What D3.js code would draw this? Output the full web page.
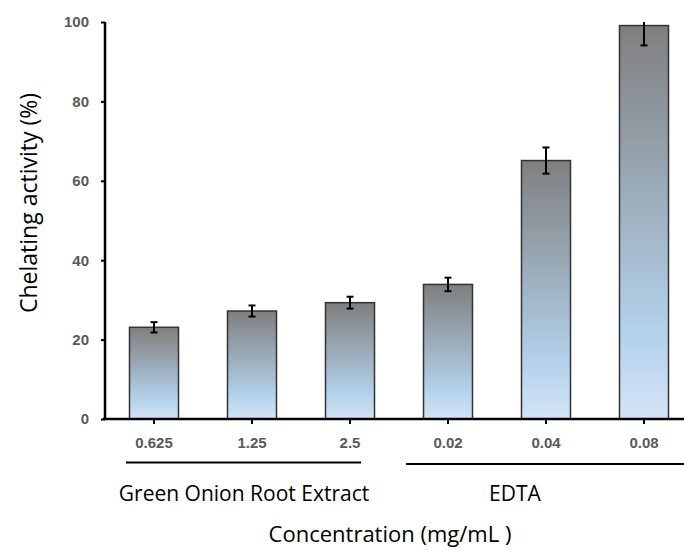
<!DOCTYPE html>
<html><head><meta charset="utf-8">
<script src="https://cdn.jsdelivr.net/npm/d3@7"></script>
<style>body{margin:0;background:#fff}svg{display:block}</style>
</head><body>
<svg id="c" width="684" height="551"></svg>
<script>
const categories = ["0.625","1.25","2.5","0.02","0.04","0.08"];
const values = [23.1, 27.2, 29.3, 33.9, 65.1, 99.1];
const errors = [1.3, 1.4, 1.5, 1.7, 3.3, 5.0];
const yTicks = [0,20,40,60,80,100];
const groupLabels = ["Green Onion Root Extract", "EDTA"];
const groupMembers = [["0.625","1.25","2.5"], ["0.02","0.04","0.08"]];
const yTitle = "Chelating activity (%)";
const xTitle = "Concentration (mg/mL )";

const svg = d3.select("#c");
const x = d3.scaleBand().domain(categories).range([105, 693]).paddingInner(0.5).paddingOuter(0.25);
const y = d3.scaleLinear().domain([0,100]).range([419, 22]);

const defs = svg.append("defs");
const g = defs.append("linearGradient").attr("id","bg").attr("x1",0).attr("y1",0).attr("x2",0).attr("y2",1);
g.append("stop").attr("offset","0%").attr("stop-color","#7f7f7f");
g.append("stop").attr("offset","78%").attr("stop-color","#b3d1eb");
g.append("stop").attr("offset","100%").attr("stop-color","#d3e4f5");
defs.append("clipPath").attr("id","pc").append("rect").attr("x",0).attr("y",y(100)).attr("width",684).attr("height",551);

// bars
svg.append("g").selectAll("rect").data(values).join("rect")
  .attr("x",(d,i)=>x(categories[i]))
  .attr("y",d=>y(d))
  .attr("width",x.bandwidth())
  .attr("height",d=>y(0)-y(d))
  .attr("fill","url(#bg)")
  .attr("stroke","#333").attr("stroke-width",1.5);

// error bars
const eb = svg.append("g").attr("clip-path","url(#pc)").attr("stroke","#000").attr("stroke-width",2);
values.forEach((v,i)=>{
  const cx = x(categories[i]) + x.bandwidth()/2;
  eb.append("line").attr("x1",cx).attr("x2",cx).attr("y1",y(v+errors[i])).attr("y2",y(v-errors[i]));
  if (v+errors[i] <= 100) eb.append("line").attr("x1",cx-3.5).attr("x2",cx+3.5).attr("y1",y(v+errors[i])).attr("y2",y(v+errors[i]));
  eb.append("line").attr("x1",cx-3.5).attr("x2",cx+3.5).attr("y1",y(v-errors[i])).attr("y2",y(v-errors[i]));
});

const tickFont = sel => sel.attr("fill","#595959").style("font-family","'Liberation Sans',Arial,sans-serif").style("font-size","15px").style("font-weight","bold");

// y axis
const ya = svg.append("g").attr("transform","translate(105,0)")
  .call(d3.axisLeft(y).tickValues(yTicks).tickSize(4).tickPadding(12));
ya.select(".domain").attr("stroke","#000").attr("stroke-width",2.5).attr("d",`M0,${y(100)}V${y(0)}`);
ya.selectAll(".tick line").attr("stroke","#000").attr("stroke-width",2);
ya.selectAll(".tick text").call(tickFont);

// x axis
const xa = svg.append("g").attr("transform",`translate(0,${y(0)})`)
  .call(d3.axisBottom(x).tickSize(5).tickPadding(13));
xa.select(".domain").attr("stroke","#000").attr("stroke-width",2.5).attr("d","M103,0H684");
xa.selectAll(".tick line").attr("stroke","#000").attr("stroke-width",2);
xa.selectAll(".tick text").call(tickFont);

// group lines & labels
const gl = svg.append("g");
const lineSpans = [[126,361],[406,684]];
const lineY = [462.5, 464];
const labelX = [244, 515];
groupLabels.forEach((lab,i)=>{
  gl.append("line").attr("x1",lineSpans[i][0]).attr("x2",lineSpans[i][1]).attr("y1",lineY[i]).attr("y2",lineY[i]).attr("stroke","#000").attr("stroke-width",2);
  gl.append("text").attr("x",labelX[i]).attr("y",501).attr("text-anchor","middle")
    .style("font-family","'Open Sans',sans-serif").style("font-size","21px").attr("fill","#000").text(lab);
});

svg.append("text").attr("x",390).attr("y",542).attr("text-anchor","middle")
  .style("font-family","'Open Sans',sans-serif").style("font-size","22px").text(xTitle);
svg.append("text").attr("transform",`translate(37,203) rotate(-90)`).attr("text-anchor","middle")
  .style("font-family","'Open Sans',sans-serif").style("font-size","23px").text(yTitle);
</script>
</body></html>
